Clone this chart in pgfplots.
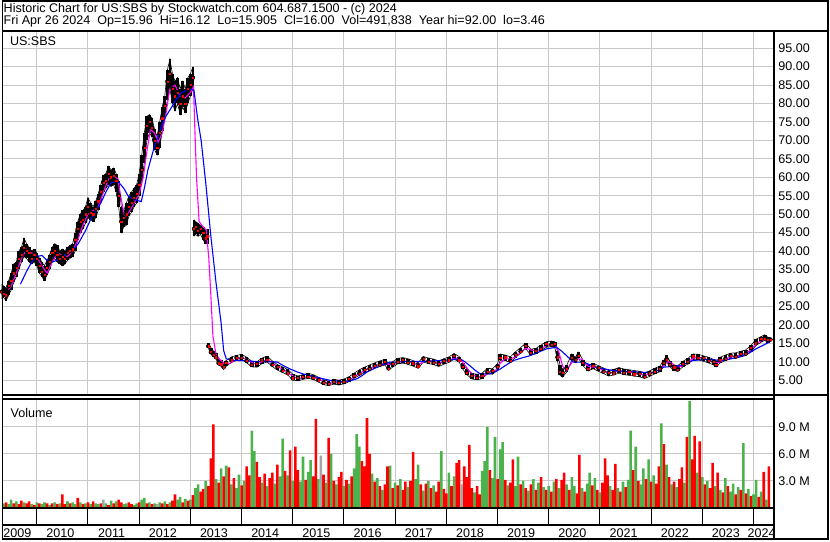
\documentclass[border=0pt]{standalone}
\usepackage{fontspec}
\setmainfont{Liberation Sans}
\usepackage{pgfplots}
\usepackage{pgfplotstable}
\pgfplotsset{compat=1.18}
\definecolor{gridgray}{RGB}{200,200,200}
\definecolor{vgreen}{RGB}{76,178,76}
\definecolor{vred}{RGB}{255,0,0}
\definecolor{vgray}{RGB}{165,165,165}
\definecolor{mag}{RGB}{255,0,255}
\definecolor{mablue}{RGB}{0,0,255}

% price segments: x hi lo cl
\pgfplotstableread[row sep=\\]{
x hi lo cl\\
2009.32 31 27 29\\ 2009.35 30.5 27.5 28.5\\ 2009.40 30 26.5 28\\ 2009.45 32 28 30.5\\
2009.50 34 29.5 32\\ 2009.55 36.5 31.5 34\\ 2009.60 37 33 35.5\\ 2009.65 40 35 38\\
2009.70 41 37 39\\ 2009.75 43.5 38.5 41\\ 2009.80 42 38 40\\ 2009.85 41 37 39.5\\
2009.90 40 36.5 38\\ 2009.95 40.5 37 39\\ 2010.00 39.5 36 38\\ 2010.05 38 34 36\\
2010.10 37 33 34.5\\ 2010.15 36 32 33.5\\ 2010.20 37.5 33.5 35.5\\ 2010.25 39 35 37\\
2010.30 41 37 39.5\\ 2010.35 42 38 40\\ 2010.40 41.5 37 39\\ 2010.45 40 36.5 38\\
2010.50 40.5 36 38.5\\ 2010.55 40 36.5 38\\ 2010.60 41 37.5 39.5\\ 2010.65 41.5 38 40\\
2010.70 42 38.5 40.5\\ 2010.75 45 40 43\\ 2010.80 48 43 46\\ 2010.85 50 45 48\\
2010.90 51 46 48.5\\ 2010.95 52 47.5 50\\ 2011.00 54.5 49 52\\ 2011.05 53 48.5 50.5\\
2011.10 52 48 50\\ 2011.15 53.5 49 51.5\\ 2011.20 55.5 51 53.5\\ 2011.25 58 53.5 56\\
2011.30 60.5 56 58.5\\ 2011.35 61 57 59\\ 2011.40 63 58 61\\ 2011.45 62 57.5 60\\
2011.50 62.5 58 60.5\\ 2011.55 61 56 59\\ 2011.60 59 52 55\\ 2011.65 52 45 48\\
2011.70 51 46.5 49\\ 2011.75 53 47 50\\ 2011.80 55 49.5 52\\ 2011.85 56 50.5 53\\
2011.90 57 52 54.5\\ 2011.95 58 53 55.5\\ 2012.00 61 55 58\\ 2012.05 66 59 62\\
2012.10 72 64 68\\ 2012.15 76.5 70 74\\ 2012.20 77 72 75\\ 2012.25 76 71 73.5\\
2012.30 73 67.5 70\\ 2012.35 71 66 68\\ 2012.40 75 68 72\\ 2012.45 79 72.5 76\\
2012.50 82 76 79.5\\ 2012.55 89 81 86\\ 2012.60 92 84 88\\ 2012.65 88 80 84\\
2012.70 86 78 82\\ 2012.75 87 80 83\\ 2012.80 84 77 80\\ 2012.85 86 79 82\\
2012.90 84 77.5 80\\ 2012.95 87 80 84\\ 2013.00 88 82 85\\ 2013.05 90 84 87\\
}\segA
\pgfplotstableread[row sep=\\]{
x hi lo cl\\
2013.07 48.5 44.0 46.0\\ 2013.10 48.0 44.5 46.5\\ 2013.15 47.5 44.0 45.5\\ 2013.20 47.0 44.5 46.0\\
2013.25 46.5 43.0 45.0\\ 2013.30 45.5 42.0 43.5\\ 2013.33 46.0 42.0 44.0\\
}\segB
\pgfplotstableread[row sep=\\]{
x hi lo cl\\
2013.35 15.0 13.6 14.2\\ 2013.40 13.8 12.2 12.6\\ 2013.45 12.9 11.4 12.0\\ 2013.50 12.4 10.8 11.2\\
2013.55 10.7 9.1 9.6\\ 2013.60 10.4 8.8 9.3\\ 2013.65 9.5 7.9 8.5\\ 2013.70 10.3 8.8 9.7\\
2013.80 11.3 9.8 10.4\\ 2013.90 11.7 10.3 11.1\\ 2014.00 12.0 10.6 11.0\\ 2014.10 11.2 9.7 10.2\\
2014.20 10.1 8.6 9.1\\ 2014.30 10.0 8.5 9.5\\ 2014.40 11.0 9.5 10.4\\ 2014.50 11.5 9.9 10.5\\
2014.60 10.2 8.7 9.2\\ 2014.70 9.2 7.7 8.6\\ 2014.80 8.6 7.1 7.6\\ 2014.90 7.9 6.4 6.9\\
2015.00 6.6 5.0 5.5\\ 2015.10 6.1 4.8 5.6\\ 2015.20 6.5 5.2 5.9\\ 2015.30 6.8 5.5 6.0\\
2015.40 6.5 5.2 5.6\\ 2015.50 5.8 4.5 5.0\\ 2015.60 5.1 3.8 4.3\\ 2015.70 4.7 3.5 4.1\\
2015.80 5.2 3.9 4.6\\ 2015.90 5.0 3.7 4.2\\ 2016.00 5.3 4.0 4.5\\ 2016.10 5.9 4.6 5.4\\
2016.20 6.9 5.5 6.2\\ 2016.30 7.8 6.3 6.8\\ 2016.40 8.5 7.0 7.9\\ 2016.50 9.1 7.6 8.1\\
2016.60 9.7 8.2 9.0\\ 2016.70 10.2 8.7 9.2\\ 2016.80 10.6 9.1 9.9\\ 2016.87 9.3 7.7 8.2\\
2016.95 10.0 8.5 9.4\\ 2017.05 10.9 9.4 10.0\\ 2017.15 11.1 9.6 10.5\\ 2017.25 10.8 9.3 9.8\\
2017.35 10.3 8.8 9.6\\ 2017.45 9.7 8.2 8.8\\ 2017.55 11.4 9.9 10.8\\ 2017.65 11.0 9.5 10.1\\
2017.75 10.7 9.2 9.7\\ 2017.85 10.2 8.7 9.5\\ 2017.95 10.8 9.3 10.2\\ 2018.05 11.3 9.8 10.4\\
2018.15 12.2 10.7 11.6\\ 2018.25 11.4 9.9 10.4\\ 2018.32 9.7 8.0 8.6\\ 2018.40 8.0 6.5 7.0\\
2018.50 6.8 5.3 6.2\\ 2018.60 6.6 5.1 5.7\\ 2018.70 6.9 5.4 6.3\\ 2018.80 8.2 6.7 7.2\\
2018.90 8.1 6.6 7.5\\ 2019.00 9.4 7.8 8.7\\ 2019.05 12.1 10.4 11.0\\ 2019.15 11.8 10.3 11.2\\
2019.25 11.3 9.8 10.3\\ 2019.35 12.7 11.1 12.0\\ 2019.45 13.8 12.3 12.8\\ 2019.55 15.0 13.5 14.4\\
2019.65 13.4 11.9 12.4\\ 2019.75 13.6 12.1 13.0\\ 2019.85 14.5 13.0 13.5\\ 2019.95 15.4 13.9 14.8\\
2020.05 15.6 14.1 14.6\\ 2020.12 15.4 13.8 14.8\\ 2020.17 12.8 10.3 11.2\\ 2020.22 9.0 6.3 7.2\\
2020.27 8.0 5.8 7.0\\ 2020.35 9.0 7.2 8.2\\ 2020.45 12.1 10.4 11.0\\ 2020.52 11.2 9.7 10.6\\
2020.58 12.6 11.0 11.6\\ 2020.67 10.4 8.9 9.8\\ 2020.77 9.0 7.5 8.0\\ 2020.87 9.6 8.1 9.0\\
2020.97 8.9 7.4 8.3\\ 2021.07 8.3 6.8 7.3\\ 2021.17 7.6 6.1 7.0\\ 2021.27 7.9 6.4 6.9\\
2021.37 8.4 6.9 7.8\\ 2021.47 8.0 6.5 7.0\\ 2021.57 7.8 6.3 7.2\\ 2021.67 7.6 6.1 6.6\\
2021.77 7.4 5.9 6.8\\ 2021.87 7.0 5.5 6.0\\ 2021.97 7.5 6.0 6.9\\ 2022.07 8.2 6.7 7.2\\
2022.17 8.8 7.3 8.2\\ 2022.25 10.4 8.7 9.7\\ 2022.30 11.7 10.0 10.6\\ 2022.37 10.1 8.6 9.1\\
2022.45 9.1 7.6 8.5\\ 2022.52 8.9 7.4 7.9\\ 2022.62 10.1 8.6 9.5\\ 2022.72 10.9 9.4 9.9\\
2022.82 12.1 10.6 11.5\\ 2022.92 12.0 10.5 11.0\\ 2023.02 11.6 10.1 11.0\\ 2023.12 11.2 9.7 10.2\\
2023.22 10.6 9.1 10.0\\ 2023.27 10.1 8.6 9.1\\ 2023.35 11.2 9.7 10.6\\ 2023.45 11.8 10.3 10.8\\
2023.55 12.3 10.8 11.7\\ 2023.65 12.4 10.9 11.4\\ 2023.75 12.8 11.3 12.2\\ 2023.85 13.2 11.7 12.2\\
2023.95 14.4 12.7 13.7\\ 2024.05 16.1 14.4 15.0\\ 2024.15 16.8 15.3 16.2\\ 2024.22 17.3 15.8 16.3\\
2024.28 16.6 15.1 16.0\\ 2024.33 16.2 15.9 16.0\\
}\segC
% short moving average (magenta)
\pgfplotstableread[row sep=\\]{
x y\\
2009.45 29.5\\ 2009.50 30.5\\ 2009.60 34\\ 2009.70 38\\ 2009.80 40.5\\ 2009.90 39.5\\ 2010.00 38.5\\
2010.10 36\\ 2010.20 34\\ 2010.30 37\\ 2010.40 39.5\\ 2010.50 38.8\\ 2010.60 38.5\\ 2010.70 40\\
2010.80 43\\ 2010.90 47\\ 2011.00 50\\ 2011.10 51\\ 2011.20 52\\ 2011.30 56\\ 2011.40 59.5\\
2011.50 60.5\\ 2011.58 59.5\\ 2011.65 54\\ 2011.72 49\\ 2011.80 50.5\\ 2011.90 53\\ 2012.00 55.5\\
2012.08 60\\ 2012.15 67\\ 2012.22 73\\ 2012.30 72\\ 2012.37 69.5\\ 2012.45 72\\ 2012.52 77\\
2012.60 84\\ 2012.70 85\\ 2012.80 82\\ 2012.90 81.5\\ 2013.00 83\\ 2013.06 84.5\\ 2013.09 72\\
2013.12 60\\ 2013.17 48\\ 2013.25 46.5\\ 2013.31 45.8\\ 2013.36 38\\ 2013.40 28\\ 2013.44 17\\
2013.50 12\\ 2013.58 10.5\\ 2013.65 9.6\\ 2013.75 9.4\\ 2013.85 10.2\\ 2013.95 10.9\\ 2014.05 10.9\\
2014.15 10.2\\ 2014.25 9.4\\ 2014.35 9.6\\ 2014.45 10.3\\ 2014.55 10.2\\ 2014.65 9.2\\ 2014.75 8.3\\
2014.85 7.6\\ 2014.95 6.6\\ 2015.05 5.7\\ 2015.15 5.5\\ 2015.25 5.8\\ 2015.35 5.9\\ 2015.45 5.6\\
2015.55 5.0\\ 2015.65 4.4\\ 2015.75 4.2\\ 2015.85 4.4\\ 2015.95 4.4\\ 2016.05 4.7\\ 2016.15 5.4\\
2016.25 6.4\\ 2016.35 7.2\\ 2016.45 7.9\\ 2016.55 8.5\\ 2016.65 9.0\\ 2016.75 9.5\\ 2016.85 9.4\\
2016.95 9.0\\ 2017.05 9.8\\ 2017.15 10.2\\ 2017.25 10.1\\ 2017.35 9.6\\ 2017.45 9.1\\ 2017.55 10.0\\
2017.65 10.3\\ 2017.75 10.0\\ 2017.85 9.6\\ 2017.95 9.8\\ 2018.05 10.3\\ 2018.15 11.0\\ 2018.25 10.9\\
2018.35 9.3\\ 2018.45 7.4\\ 2018.55 6.2\\ 2018.65 5.9\\ 2018.75 6.3\\ 2018.85 7.2\\ 2018.95 7.4\\
2019.05 9.5\\ 2019.15 10.8\\ 2019.25 10.7\\ 2019.35 11.3\\ 2019.45 12.5\\ 2019.55 13.7\\ 2019.65 13.2\\
2019.75 12.9\\ 2019.85 13.5\\ 2019.95 14.3\\ 2020.05 14.7\\ 2020.13 14.6\\ 2020.20 12.5\\ 2020.27 8.8\\
2020.35 7.5\\ 2020.45 9.8\\ 2020.55 10.9\\ 2020.65 10.6\\ 2020.75 8.9\\ 2020.85 8.5\\ 2020.95 8.4\\
2021.05 7.8\\ 2021.15 7.1\\ 2021.25 7.0\\ 2021.35 7.4\\ 2021.45 7.3\\ 2021.55 7.1\\ 2021.65 6.9\\
2021.75 6.7\\ 2021.85 6.4\\ 2021.95 6.5\\ 2022.05 7.1\\ 2022.15 7.8\\ 2022.25 9.0\\ 2022.32 10.1\\
2022.40 9.6\\ 2022.50 8.4\\ 2022.60 8.8\\ 2022.70 9.7\\ 2022.80 10.8\\ 2022.90 11.2\\ 2023.00 11.0\\
2023.10 10.6\\ 2023.20 10.0\\ 2023.30 9.7\\ 2023.40 10.3\\ 2023.50 11.0\\ 2023.60 11.4\\ 2023.70 11.7\\
2023.80 12.0\\ 2023.90 12.7\\ 2024.00 14.0\\ 2024.10 15.3\\ 2024.20 16.0\\ 2024.33 16.0\\
}\maS
% long moving average (blue)
\pgfplotstableread[row sep=\\]{
x y\\
2009.68 31\\ 2009.80 34.5\\ 2009.90 37\\ 2010.00 38.5\\ 2010.10 38.8\\ 2010.20 37.5\\ 2010.30 37\\
2010.40 37.5\\ 2010.50 38.5\\ 2010.62 39.6\\ 2010.72 40.5\\ 2010.81 42\\ 2010.95 45.5\\ 2011.05 48.5\\
2011.12 50\\ 2011.25 53\\ 2011.35 56\\ 2011.45 58.5\\ 2011.59 58.8\\ 2011.70 57\\ 2011.78 55\\
2011.90 54\\ 2012.04 53.4\\ 2012.10 57\\ 2012.17 62\\ 2012.29 68\\ 2012.43 73.7\\ 2012.52 76.5\\
2012.62 78.7\\ 2012.72 81\\ 2012.82 82.8\\ 2012.97 84\\ 2013.07 83.6\\ 2013.14 76\\ 2013.21 70\\
2013.30 58.5\\ 2013.40 44\\ 2013.50 31.5\\ 2013.60 20.5\\ 2013.65 13\\ 2013.70 10.8\\ 2013.80 10.4\\
2013.99 10.3\\ 2014.15 10.2\\ 2014.31 10.0\\ 2014.50 10.0\\ 2014.70 9.9\\ 2014.82 8.9\\ 2014.95 8.0\\
2015.09 7.2\\ 2015.22 6.6\\ 2015.35 6.2\\ 2015.55 5.5\\ 2015.74 4.9\\ 2015.99 4.6\\ 2016.12 4.8\\
2016.26 5.4\\ 2016.35 6.2\\ 2016.45 7.2\\ 2016.58 8.1\\ 2016.71 8.9\\ 2016.82 9.5\\ 2016.91 9.9\\
2017.04 9.9\\ 2017.36 10.1\\ 2017.60 10.1\\ 2017.88 10.3\\ 2018.10 10.5\\ 2018.27 10.8\\ 2018.36 10.0\\
2018.46 8.9\\ 2018.56 7.7\\ 2018.66 6.7\\ 2018.85 6.7\\ 2018.95 7.2\\ 2019.05 8.0\\ 2019.18 9.2\\
2019.31 10.3\\ 2019.47 11.0\\ 2019.63 11.6\\ 2019.80 12.6\\ 2019.96 13.5\\ 2020.15 13.9\\ 2020.25 12.9\\
2020.35 11.6\\ 2020.48 9.9\\ 2020.67 9.9\\ 2020.80 9.2\\ 2020.93 8.5\\ 2021.10 8.0\\ 2021.25 7.6\\
2021.50 7.4\\ 2021.71 7.2\\ 2022.03 7.0\\ 2022.13 7.6\\ 2022.23 8.5\\ 2022.40 8.7\\ 2022.55 8.9\\
2022.70 9.6\\ 2022.81 10.3\\ 2022.95 10.5\\ 2023.14 10.6\\ 2023.40 10.3\\ 2023.60 10.9\\ 2023.79 11.6\\
2023.92 12.4\\ 2024.05 13.5\\ 2024.18 14.4\\ 2024.31 15.3\\
}\maL
% volume (millions): x, up-day volume g, down-day volume r, unchanged k
\pgfplotstableread[row sep=\\]{
x g r k\\
2009.35 0.5 0 0\\ 2009.40 0 0.6 0\\ 2009.45 0.4 0 0\\ 2009.50 0.9 0 0\\ 2009.55 0 0.5 0\\ 2009.60 0.7 0 0\\ 2009.65 0 0.4 0\\ 2009.70 0 0.8 0\\ 2009.75 0.6 0 0\\ 2009.80 0 0.5 0\\
2009.85 0 0.7 0\\ 2009.90 0.4 0 0\\ 2009.95 0 0.3 0\\ 2010.00 0.6 0 0\\ 2010.05 0 0.5 0\\ 2010.10 0.4 0 0\\ 2010.15 0.6 0 0\\ 2010.20 0 0.5 0\\ 2010.25 0.3 0 0\\ 2010.30 0 0.5 0\\
2010.35 0.6 0 0\\ 2010.40 0 0.4 0\\ 2010.45 0.5 0 0\\ 2010.50 0 1.5 0\\ 2010.55 0 0.4 0\\ 2010.60 0.7 0 0\\ 2010.65 0 0.5 0\\ 2010.70 0.6 0 0\\ 2010.75 0.4 0 0\\ 2010.80 0 1.1 0\\
2010.85 0.6 0 0\\ 2010.90 0 0.4 0\\ 2010.95 0.5 0 0\\ 2011.00 0 0.6 0\\ 2011.05 0.4 0 0\\ 2011.10 0 0.7 0\\ 2011.15 0.5 0 0\\ 2011.20 0.4 0 0\\ 2011.25 0 0.5 0\\ 2011.30 0 0 0.9\\
2011.35 0.5 0 0\\ 2011.40 0 0.3 0\\ 2011.45 0.8 0 0\\ 2011.50 0 0.5 0\\ 2011.55 0.7 0 0\\ 2011.60 0 0.9 0\\ 2011.65 0 0.6 0\\ 2011.70 0.4 0 0\\ 2011.75 0.5 0 0\\ 2011.80 0 0.6 0\\
2011.85 0 0.4 0\\ 2011.90 0.3 0 0\\ 2011.95 0.5 0 0\\ 2012.00 0 0.6 0\\ 2012.05 0.9 0 0\\ 2012.10 1.1 0 0\\ 2012.15 0 0.5 0\\ 2012.20 0.6 0 0\\ 2012.25 0 0.4 0\\ 2012.30 0.5 0 0\\
2012.35 0 0 0.4\\ 2012.40 0.6 0 0\\ 2012.45 0 0.5 0\\ 2012.50 0.7 0 0\\ 2012.55 0 0.4 0\\ 2012.60 0.6 0 0\\ 2012.65 0 0.8 0\\ 2012.70 0 1.5 0\\ 2012.75 0.9 0 0\\ 2012.80 1.2 0 0\\
2012.85 0 0.6 0\\ 2012.90 1.0 0 0\\ 2012.95 0 0.8 0\\
2013.00 0.9 0 0\\ 2013.05 0 1.4 0\\ 2013.10 2.2 0 0\\ 2013.15 2.6 0 0\\ 2013.20 0 1.8 0\\ 2013.25 0 2.1 0\\ 2013.30 3.0 0 0\\ 2013.35 0 2.4 0\\ 2013.40 0 5.5 0\\ 2013.45 0 9.3 0\\
2013.50 3.2 0 0\\ 2013.55 0 2.8 0\\ 2013.60 4.4 0 0\\ 2013.65 0 3.5 0\\ 2013.70 4.7 0 0\\ 2013.75 0 4.5 0\\ 2013.80 2.6 0 0\\ 2013.85 0 3.3 0\\ 2013.90 2.2 0 0\\ 2013.95 3.7 0 0\\
2014.00 0 2.5 0\\ 2014.05 3.0 0 0\\ 2014.10 0 4.6 0\\ 2014.15 0 3.6 0\\ 2014.20 8.6 0 0\\ 2014.25 6.3 0 0\\ 2014.30 0 5.1 0\\ 2014.35 0 3.4 0\\ 2014.40 2.8 0 0\\ 2014.45 0 3.8 0\\
2014.50 2.4 0 0\\ 2014.55 0 3.3 0\\ 2014.60 0 3.9 0\\ 2014.65 2.7 0 0\\ 2014.70 0 4.8 0\\ 2014.75 3.5 0 0\\ 2014.80 7.7 0 0\\ 2014.85 0 4.1 0\\ 2014.90 3.6 0 0\\ 2014.95 0 6.4 0\\
2015.00 3.0 0 0\\ 2015.05 0 6.8 0\\ 2015.10 0 4.2 0\\ 2015.15 2.9 0 0\\ 2015.20 5.7 0 0\\ 2015.25 0 3.1 0\\ 2015.30 4.0 0 0\\ 2015.35 5.3 0 0\\ 2015.40 0 3.5 0\\ 2015.45 0 9.9 0\\
2015.50 3.2 0 0\\ 2015.55 0 0 5.8\\ 2015.60 0 3.7 0\\ 2015.65 2.8 0 0\\ 2015.70 0 7.8 0\\ 2015.75 6.0 0 0\\ 2015.80 0 3.0 0\\ 2015.85 2.6 0 0\\ 2015.90 0 3.4 0\\ 2015.95 0 4.0 0\\
2016.00 2.4 0 0\\ 2016.05 0 3.1 0\\ 2016.10 2.7 0 0\\ 2016.15 0 3.5 0\\ 2016.20 4.4 0 0\\ 2016.25 8.2 0 0\\ 2016.30 6.8 0 0\\ 2016.35 0 5.2 0\\ 2016.40 0 4.6 0\\ 2016.45 0 10.0 0\\
2016.50 0 6.0 0\\ 2016.55 3.8 0 0\\ 2016.60 0 2.9 0\\ 2016.65 3.3 0 0\\ 2016.70 0 2.4 0\\ 2016.75 2.0 0 0\\ 2016.80 0 2.6 0\\ 2016.85 0 4.6 0\\ 2016.90 4.7 0 0\\ 2016.95 0 2.2 0\\
2017.00 2.8 0 0\\ 2017.05 0 2.5 0\\ 2017.10 3.2 0 0\\ 2017.15 0 2.0 0\\ 2017.20 0 2.9 0\\ 2017.25 2.3 0 0\\ 2017.30 0 3.0 0\\ 2017.35 0 6.2 0\\ 2017.40 3.2 0 0\\ 2017.45 4.8 0 0\\
2017.50 0 2.6 0\\ 2017.55 1.9 0 0\\ 2017.60 0 2.7 0\\ 2017.65 3.0 0 0\\ 2017.70 0 2.2 0\\ 2017.75 2.5 0 0\\ 2017.80 0 1.8 0\\ 2017.85 0 2.9 0\\ 2017.90 6.3 0 0\\ 2017.95 0 2.1 0\\
2018.00 0 1.6 0\\ 2018.05 3.9 0 0\\ 2018.10 0 2.4 0\\ 2018.15 3.5 0 0\\ 2018.20 0 5.0 0\\ 2018.25 0 5.3 0\\ 2018.30 0 0 2.6\\ 2018.35 0 4.6 0\\ 2018.40 0 3.4 0\\ 2018.45 0 7.0 0\\
2018.50 0 2.2 0\\ 2018.55 1.7 0 0\\ 2018.60 0 2.4 0\\ 2018.65 0 1.5 0\\ 2018.70 4.1 0 0\\ 2018.75 5.2 0 0\\ 2018.80 9.0 0 0\\ 2018.85 0 4.2 0\\ 2018.90 3.3 0 0\\ 2018.95 7.9 0 0\\
2019.00 0 3.2 0\\ 2019.05 6.5 0 0\\ 2019.10 7.3 0 0\\ 2019.15 0 3.1 0\\ 2019.20 2.5 0 0\\ 2019.25 0 2.8 0\\ 2019.30 0 5.4 0\\ 2019.35 2.4 0 0\\ 2019.40 5.7 0 0\\ 2019.45 0 2.6 0\\
2019.50 3.0 0 0\\ 2019.55 0 2.2 0\\ 2019.60 1.9 0 0\\ 2019.65 0 2.6 0\\ 2019.70 3.2 0 0\\ 2019.75 0 2.0 0\\ 2019.80 2.8 0 0\\ 2019.85 0 3.4 0\\ 2019.90 2.3 0 0\\ 2019.95 0 2.0 0\\
2020.00 2.4 0 0\\ 2020.05 0 1.8 0\\ 2020.10 2.9 0 0\\ 2020.15 0 3.2 0\\ 2020.20 2.2 0 0\\ 2020.25 0 3.1 0\\ 2020.30 0 3.9 0\\ 2020.35 2.6 0 0\\ 2020.40 0 2.0 0\\ 2020.45 3.4 0 0\\
2020.50 2.4 0 0\\ 2020.55 0 1.6 0\\ 2020.60 0 5.9 0\\ 2020.65 2.2 0 0\\ 2020.70 0 1.8 0\\ 2020.75 2.7 0 0\\ 2020.80 3.9 0 0\\ 2020.85 0 2.5 0\\ 2020.90 3.3 0 0\\ 2020.95 0 2.0 0\\
2021.00 1.7 0 0\\ 2021.05 0 2.8 0\\ 2021.10 0 5.5 0\\ 2021.15 0 3.6 0\\ 2021.20 2.4 0 0\\ 2021.25 0 2.0 0\\ 2021.30 0 4.9 0\\ 2021.35 2.2 0 0\\ 2021.40 0 1.8 0\\ 2021.45 2.9 0 0\\
2021.50 0 2.3 0\\ 2021.55 3.1 0 0\\ 2021.60 8.6 0 0\\ 2021.65 0 4.2 0\\ 2021.70 6.8 0 0\\ 2021.75 0 3.0 0\\ 2021.80 2.6 0 0\\ 2021.85 4.4 0 0\\ 2021.90 0 3.2 0\\ 2021.95 5.4 0 0\\
2022.00 0 2.9 0\\ 2022.05 3.6 0 0\\ 2022.10 0 2.7 0\\ 2022.15 0 4.6 0\\ 2022.20 9.4 0 0\\ 2022.25 0 7.1 0\\ 2022.30 4.8 0 0\\ 2022.35 0 3.4 0\\ 2022.40 2.6 0 0\\ 2022.45 0 2.9 0\\
2022.50 2.3 0 0\\ 2022.55 0 3.2 0\\ 2022.60 0 4.5 0\\ 2022.65 2.8 0 0\\ 2022.70 0 7.9 0\\ 2022.75 11.9 0 0\\ 2022.80 0 5.4 0\\ 2022.85 0 8.0 0\\ 2022.90 3.9 0 0\\ 2022.95 0 7.4 0\\
2023.00 3.4 0 0\\ 2023.05 0 2.6 0\\ 2023.10 3.0 0 0\\ 2023.15 0 2.2 0\\ 2023.20 0 5.0 0\\ 2023.25 2.4 0 0\\ 2023.30 0 3.9 0\\ 2023.35 2.0 0 0\\ 2023.40 0 1.7 0\\ 2023.45 3.3 0 0\\
2023.50 0 2.4 0\\ 2023.55 1.8 0 0\\ 2023.60 2.7 0 0\\ 2023.65 0 1.5 0\\ 2023.70 2.3 0 0\\ 2023.75 0 2.0 0\\ 2023.80 7.2 0 0\\ 2023.85 0 1.6 0\\ 2023.90 2.1 0 0\\ 2023.95 0 1.3 0\\
2024.00 1.5 0 0\\ 2024.05 3.1 0 0\\ 2024.10 0 1.2 0\\ 2024.15 1.8 0 0\\ 2024.20 0 4.0 0\\ 2024.25 0.9 0 0\\ 2024.30 0 4.6 0\\
}\vol

\newcommand{\tf}{\fontsize{12.6}{14}\selectfont}
\pgfplotsset{hlbars/.style={only marks, mark=none, forget plot,
  error bars/.cd, y dir=both, y explicit, error mark=none,
  error bar style={line width=#1, black}}}

\begin{document}
\begin{tikzpicture}[x=1pt,y=1pt]
\path (0,0) rectangle (830,543);
% ---------- price panel ----------
\begin{axis}[scale only axis, width=774pt, height=365.2pt, at={(0pt,146.8pt)}, anchor=south west,
  xmin=2009.311, xmax=2024.384, ymin=0.97, ymax=99.68,
  axis line style={draw=none}, major tick length=0pt,
  xtick={2010,2011,...,2024}, xticklabels={},
  ytick={5,10,...,95}, yticklabel pos=right,
  grid=major, major grid style={gridgray, line width=1pt},
  yticklabel style={anchor=west, inner sep=0pt, xshift=5pt, font=\tf,
     /pgf/number format/.cd, fixed, fixed zerofill, precision=2, assume math mode=true, /tikz/.cd}]
\addplot[hlbars=2.8pt] table[x=x, y=cl, y error plus expr=\thisrow{hi}-\thisrow{cl}, y error minus expr=\thisrow{cl}-\thisrow{lo}]{\segA};
\addplot[black, line width=0.6pt] table[x=x,y=hi]{\segA};
\addplot[black, line width=0.6pt] table[x=x,y=lo]{\segA};
\addplot[hlbars=2.8pt] table[x=x, y=cl, y error plus expr=\thisrow{hi}-\thisrow{cl}, y error minus expr=\thisrow{cl}-\thisrow{lo}]{\segB};
\addplot[black, line width=0.6pt] table[x=x,y=hi]{\segB};
\addplot[black, line width=0.6pt] table[x=x,y=lo]{\segB};
\addplot[hlbars=3.6pt] table[x=x, y=cl, y error plus expr=\thisrow{hi}-\thisrow{cl}, y error minus expr=\thisrow{cl}-\thisrow{lo}]{\segC};
\addplot[black, line width=0.6pt] table[x=x,y=hi]{\segC};
\addplot[black, line width=0.6pt] table[x=x,y=lo]{\segC};
\addplot[only marks, mark=square*, mark size=0.6pt, vred, mark options={draw=none}] table[x=x,y=cl]{\segA};
\addplot[only marks, mark=square*, mark size=0.6pt, vred, mark options={draw=none}] table[x=x,y=cl]{\segB};
\addplot[only marks, mark=square*, mark size=0.6pt, vred, mark options={draw=none}] table[x=x,y=cl]{\segC};
\addplot[mag, line width=1.1pt] table[x=x,y=y]{\maS};
\addplot[mablue, line width=1.1pt] table[x=x,y=y]{\maL};
\end{axis}
% ---------- volume panel ----------
\begin{axis}[scale only axis, width=774pt, height=109pt, at={(0pt,33.7pt)}, anchor=south west,
  xmin=2009.311, xmax=2024.384, ymin=0, ymax=12.11,
  axis line style={draw=none}, major tick length=0pt,
  xtick={2010,2011,...,2024}, xticklabels={},
  ytick={3,6,9}, yticklabels={3.0 M,6.0 M,9.0 M}, yticklabel pos=right,
  grid=major, major grid style={gridgray, line width=1pt},
  yticklabel style={anchor=west, inner sep=0pt, xshift=5pt, font=\tf}]
\addplot[ybar, bar width=0.05, bar shift=0pt, fill=vgreen, draw=none] table[x=x,y=g]{\vol};
\addplot[ybar, bar width=0.05, bar shift=0pt, fill=vred, draw=none] table[x=x,y=r]{\vol};
\addplot[ybar, bar width=0.05, bar shift=0pt, fill=vgray, draw=none] table[x=x,y=k]{\vol};
\end{axis}
% ---------- frame and texts ----------
\draw[line width=2pt] (0,512) -- (830,512);
\draw[line width=2.3pt] (774.5,513) -- (774.5,2);
\draw[line width=1.2pt] (0,146.8) -- (830,146.8);
\draw[line width=1.2pt] (0,142.7) -- (774.5,142.7);
\draw[line width=1.8pt] (0,33.2) -- (774.5,33.2);
\draw[line width=1.8pt] (0,16.3) -- (774.5,16.3);
\draw[line width=1.8pt] (0.9,2.1) rectangle (828.8,542.1);
\foreach \xx in {35.4,86.7,138.1,189.4,240.8,292.1,343.5,394.8,446.2,497.5,548.9,600.2,651.6,702.9,754.3}
  \draw[line width=1pt] (\xx,33.2) -- (\xx,16.3);
\node[anchor=base west, inner sep=0pt, font=\tf] at (2,530.5) {Historic Chart for US:SBS by Stockwatch.com 604.687.1500 - (c) 2024};
\node[anchor=base west, inner sep=0pt, font=\tf] at (2,518) {Fri Apr 26 2024\ \ Op=15.96\ \ Hi=16.12\ \ Lo=15.905\ \ Cl=16.00\ \ Vol=491,838\ \ Year hi=92.00\ \ lo=3.46};
\node[anchor=base west, inner sep=0pt, font=\tf] at (8.3,497.5) {US:SBS};
\node[anchor=base west, inner sep=0pt, font=\tf] at (9,124.7) {Volume};
\node[anchor=base west, inner sep=0pt, font=\tf] at (1.7,4) {2009};
\foreach \xx/\yy in {59.1/2010,110.4/2011,161.8/2012,213.1/2013,264.5/2014,315.8/2015,367.2/2016,418.5/2017,469.9/2018,521.2/2019,572.6/2020,623.9/2021,675.3/2022,726.6/2023}
  \node[anchor=base, inner sep=0pt, font=\tf] at (\xx,4) {\yy};
\node[anchor=base east, inner sep=0pt, font=\tf] at (776.7,4) {2024};
\end{tikzpicture}
\end{document}
